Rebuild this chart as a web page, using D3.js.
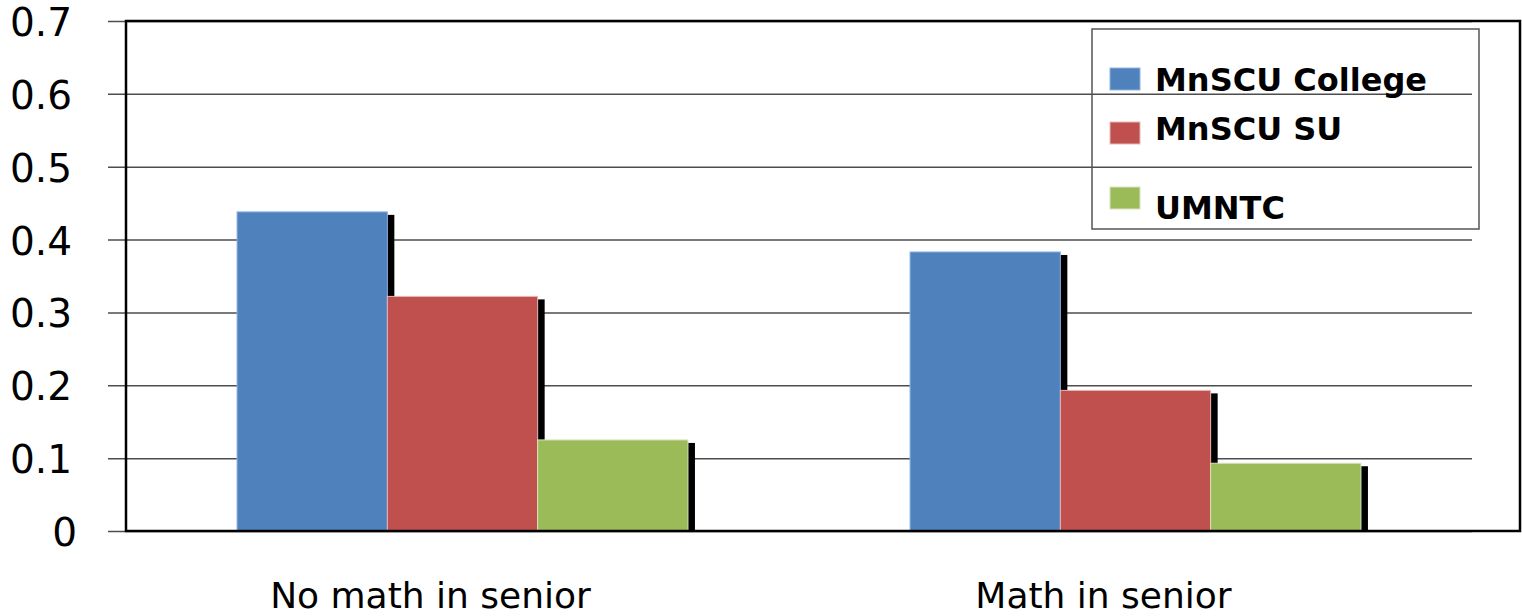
<!DOCTYPE html>
<html>
<head>
<meta charset="utf-8">
<script src="https://cdn.jsdelivr.net/npm/d3@7"></script>
<style>
  html, body { margin: 0; padding: 0; background: #fff; }
  svg { display: block; }
</style>
</head>
<body>
<svg id="chart" width="1522" height="616"></svg>
<script>
// Share of students, by senior-year math, for each institution type
const categories = ["No math in senior", "Math in senior"];
const seriesNames = ["MnSCU College", "MnSCU SU", "UMNTC"];
const mnscuCollege = [0.438, 0.383];
const mnscuSU = [0.322, 0.193];
const umntc = [0.125, 0.093];
const yTicks = [0, 0.1, 0.2, 0.3, 0.4, 0.5, 0.6, 0.7];

const seriesValues = [mnscuCollege, mnscuSU, umntc];
const fills = ["#4f81bd", "#c0504d", "#9bbb59"];
const edges = ["#8db4e2", "#e6b9b8", "#d7e4bd"];

const svg = d3.select("#chart");
const frame = { left: 126, right: 1520, top: 21, bottom: 531 };
const gridRight = 1472;
const font = "'DejaVu Sans', sans-serif";

const y = d3.scaleLinear().domain([0, 0.7]).range([frame.bottom, frame.top]);
const x = d3.scaleBand().domain(categories).range([frame.left, gridRight])
  .paddingInner(0.33).paddingOuter(0.165);
const xs = d3.scaleBand().domain(seriesNames).range([0, x.bandwidth()]);

// Gridlines, extending left past the frame as tick marks
const yAxis = d3.axisLeft(y).tickValues(yTicks)
  .tickSize(gridRight - 108).tickFormat(d => d === 0 ? "0" : d3.format(".1f")(d));
const gAxis = svg.append("g")
  .attr("transform", `translate(${gridRight},0)`)
  .call(yAxis);
gAxis.select(".domain").remove();
gAxis.selectAll(".tick line")
  .attr("stroke", "#4d4d4d").attr("stroke-width", 1.5);
gAxis.selectAll(".tick text")
  .attr("x", d => -(gridRight - (d === 0 ? 77 : 72)))
  .attr("dy", "0.37em")
  .attr("font-family", font).attr("font-size", 39).attr("fill", "#000");

// Bars with a dark drop shadow offset to the lower right
const groups = svg.append("g").selectAll("g")
  .data(categories).join("g")
  .attr("transform", d => `translate(${x(d)},0)`);

const barData = (c, i) => seriesNames.map((s, k) => ({ s, k, v: seriesValues[k][i] }));

groups.each(function (c, i) {
  const g = d3.select(this);
  const data = barData(c, i);
  // draw each series' shadow and bar in order so the next bar covers the previous shadow
  data.forEach(d => {
    g.append("rect")
      .attr("x", xs(d.s) + 7)
      .attr("y", y(d.v) + 3)
      .attr("width", xs.bandwidth())
      .attr("height", y(0) - y(d.v) - 3)
      .attr("fill", "#000");
    g.append("rect")
      .attr("x", xs(d.s))
      .attr("y", y(d.v))
      .attr("width", xs.bandwidth())
      .attr("height", y(0) - y(d.v))
      .attr("fill", fills[d.k])
      .attr("stroke", edges[d.k])
      .attr("stroke-width", 1);
  });
});

// Clear anything to the right of the frame
svg.append("rect").attr("x", frame.right + 1).attr("y", 0)
  .attr("width", 10).attr("height", 616).attr("fill", "#fff");

// Plot frame
svg.append("rect")
  .attr("x", frame.left).attr("y", frame.top)
  .attr("width", frame.right - frame.left)
  .attr("height", frame.bottom - frame.top)
  .attr("fill", "none").attr("stroke", "#000").attr("stroke-width", 2.5);

// Category labels
svg.append("g").selectAll("text")
  .data(categories).join("text")
  .attr("x", d => x(d) + x.bandwidth() / 2 - 32)
  .attr("y", 608)
  .attr("text-anchor", "middle")
  .attr("font-family", font).attr("font-size", 36).attr("fill", "#000")
  .text(d => d);

// Legend
const legend = svg.append("g");
legend.append("rect")
  .attr("x", 1092).attr("y", 29).attr("width", 387).attr("height", 200)
  .attr("fill", "none").attr("stroke", "#555").attr("stroke-width", 1.5);
const swatchTops = [68, 122, 187];
const labelBaselines = [91, 140, 219];
const rows = legend.selectAll("g.row")
  .data(seriesNames).join("g").attr("class", "row");
rows.append("rect")
  .attr("x", 1110).attr("y", (d, k) => swatchTops[k])
  .attr("width", 30).attr("height", 22)
  .attr("fill", (d, k) => fills[k])
  .attr("stroke", (d, k) => edges[k]).attr("stroke-width", 1);
rows.append("text")
  .attr("x", 1155).attr("y", (d, k) => labelBaselines[k])
  .attr("font-family", font).attr("font-size", 32).attr("font-weight", "bold")
  .attr("fill", "#000")
  .text(d => d);
</script>
</body>
</html>
